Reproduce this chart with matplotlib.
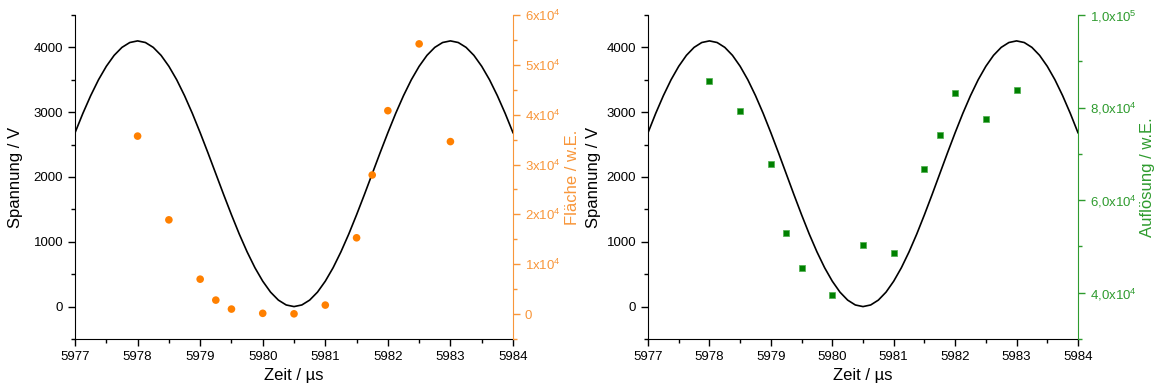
import matplotlib.pyplot as plt
from matplotlib.ticker import MultipleLocator, FixedLocator, FixedFormatter

plt.rcParams['font.family'] = ['Liberation Sans', 'DejaVu Sans']
plt.rcParams['mathtext.default'] = 'regular'

# Spannungsverlauf (Schritt 0.125 µs von 5977 bis 5984)
zeit_kurve = [5977 + 0.125 * i for i in range(57)]
spannung = [2683, 2981, 3255, 3500, 3708, 3877, 4000, 4075,
            4100, 4075, 4000, 3877, 3708, 3500, 3255, 2981,
            2683, 2371, 2050, 1729, 1417, 1119, 845, 600,
            392, 223, 100, 25, 0, 25, 100, 223,
            392, 600, 845, 1119, 1417, 1729, 2050, 2371,
            2683, 2981, 3255, 3500, 3708, 3877, 4000, 4075,
            4100, 4075, 4000, 3877, 3708, 3500, 3255, 2981,
            2683]

# Messpunkte
zeit_mess = [5978, 5978.5, 5979, 5979.25, 5979.5, 5980, 5980.5,
             5981, 5981.5, 5981.75, 5982, 5982.5, 5983]
flaeche = [35700, 18900, 7000, 2800, 1000, 150, 50,
           1800, 15300, 27900, 40800, 54200, 34600]
aufloesung = [85800, 79300, 67900, 52800, 45400, 39600, 50200,
              48500, 66800, 74100, 83100, 77500, 83800]

orange = '#FF8000'
orange_achse = '#F8963A'
gruen = '#008000'
gruen_achse = '#2E9B2E'

tick_fs = 9.5
label_fs = 12

fig = plt.figure(figsize=(11.58, 3.9), dpi=100)
ax1 = fig.add_axes([0.0648, 0.1308, 0.3782, 0.8308])
ax2 = fig.add_axes([0.5596, 0.1308, 0.3713, 0.8308])


def basis_achse(ax, xlab):
    ax.plot(zeit_kurve, spannung, color='black', lw=1.2, zorder=3)
    ax.set_xlim(5977, 5984)
    ax.set_ylim(-500, 4500)
    ax.xaxis.set_major_locator(MultipleLocator(1))
    ax.xaxis.set_minor_locator(MultipleLocator(0.5))
    ax.yaxis.set_major_locator(FixedLocator([0, 1000, 2000, 3000, 4000]))
    ax.yaxis.set_minor_locator(MultipleLocator(500))
    ax.spines['top'].set_visible(False)
    ax.spines['right'].set_visible(False)
    ax.tick_params(which='major', direction='out', length=5, width=1, labelsize=tick_fs)
    ax.tick_params(which='minor', direction='out', length=3, width=1)
    ax.set_xlabel('Zeit / µs', fontsize=label_fs)
    ax.set_ylabel('Spannung / V', fontsize=label_fs)
    ax.yaxis.set_label_coords(xlab, 0.5)
    ax.xaxis.set_major_formatter(plt.FuncFormatter(lambda v, p: '%d' % v))
    ax.yaxis.set_major_formatter(plt.FuncFormatter(lambda v, p: '%d' % v))


basis_achse(ax1, -0.119)
basis_achse(ax2, -0.109)

# Links: Fläche
tw1 = ax1.twinx()
tw1.scatter(zeit_mess, flaeche, color=orange, s=30, edgecolors='none', zorder=4)
tw1.set_ylim(-5000, 60000)
ticks1 = [0, 10000, 20000, 30000, 40000, 50000, 60000]
tw1.yaxis.set_major_locator(FixedLocator(ticks1))
tw1.yaxis.set_major_formatter(FixedFormatter(
    ['0'] + ['%dx10$^4$' % (t // 10000) for t in ticks1[1:]]))
tw1.yaxis.set_minor_locator(MultipleLocator(5000))
for s in ['top', 'left', 'bottom']:
    tw1.spines[s].set_visible(False)
tw1.spines['right'].set_color(orange_achse)
tw1.tick_params(which='major', direction='out', length=5, width=1, colors=orange_achse, labelsize=tick_fs)
tw1.tick_params(which='minor', direction='out', length=3, width=1, colors=orange_achse)
tw1.set_ylabel('Fläche / w.E.', color=orange_achse, fontsize=label_fs)
tw1.yaxis.set_label_coords(1.118, 0.5)

# Rechts: Auflösung
tw2 = ax2.twinx()
tw2.scatter(zeit_mess, aufloesung, color=gruen, marker='s', s=24,
            edgecolors='#4CAF4C', linewidths=0.5, zorder=4)
tw2.set_ylim(30000, 100000)
ticks2 = [40000, 60000, 80000, 100000]
tw2.yaxis.set_major_locator(FixedLocator(ticks2))
tw2.yaxis.set_major_formatter(FixedFormatter(
    ['4,0x10$^4$', '6,0x10$^4$', '8,0x10$^4$', '1,0x10$^5$']))
tw2.yaxis.set_minor_locator(MultipleLocator(10000))
for s in ['top', 'left', 'bottom']:
    tw2.spines[s].set_visible(False)
tw2.spines['right'].set_color(gruen_achse)
tw2.tick_params(which='major', direction='out', length=5, width=1, colors=gruen_achse, labelsize=tick_fs)
tw2.tick_params(which='minor', direction='out', length=3, width=1, colors=gruen_achse)
tw2.set_ylabel('Auflösung / w.E.', color=gruen_achse, fontsize=label_fs)
tw2.yaxis.set_label_coords(1.145, 0.5)

fig.savefig('out.png', dpi=100)
